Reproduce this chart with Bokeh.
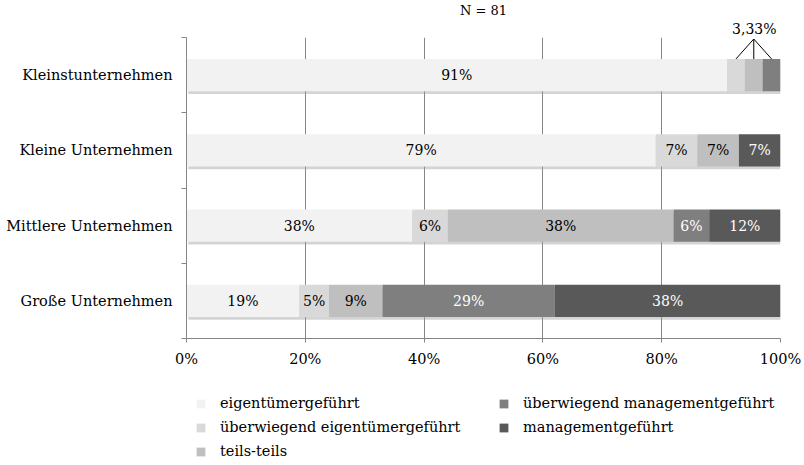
from bokeh.plotting import figure
from bokeh.layouts import column
from bokeh.models import (ColumnDataSource, Range1d, FixedTicker, PrintfTickFormatter,
                          Legend, LegendItem, Title)
from bokeh.core.properties import value
from bokeh.embed import file_html
from bokeh.resources import INLINE

# ---- data ----
categories = ["Kleinstunternehmen", "Kleine Unternehmen", "Mittlere Unternehmen", "Große Unternehmen"]
series_names = ["eigentümergeführt", "überwiegend eigentümergeführt", "teils-teils",
                "überwiegend managementgeführt", "managementgeführt"]
eigentuemer = [91, 79, 38, 19]
ueberw_eigentuemer = [3, 7, 6, 5]
teils_teils = [3, 7, 38, 9]
ueberw_management = [3, 0, 6, 29]
management = [0, 7, 12, 38]
small_label = "3,33%"
title_text = "N = 81"
x_ticks = [0, 20, 40, 60, 80, 100]

colors = ["#f2f2f2", "#d9d9d9", "#bfbfbf", "#7f7f7f", "#595959"]
text_colors = ["#000000", "#000000", "#000000", "#ffffff", "#ffffff"]
FONT = "DejaVu Serif"
GREY = "#868686"

series = [eigentuemer, ueberw_eigentuemer, teils_teils, ueberw_management, management]
n = len(categories)
ypos = [n - i - 0.5 for i in range(n)]
BAR_H = 0.43

p = figure(width=804, height=380, output_backend="svg", toolbar_location=None,
           x_range=Range1d(0, 100), y_range=Range1d(0, n), title=None,
           min_border_left=186, min_border_right=24, min_border_top=37, min_border_bottom=42)
p.outline_line_color = None
p.background_fill_color = "white"
p.border_fill_color = "white"

p.add_layout(Title(text=small_label, align="right", offset=4, text_font=FONT,
                   text_font_size="14px", text_font_style="normal", text_color="#000000",
                   standoff=2), "above")
p.add_layout(Title(text=title_text, align="center", text_font=FONT,
                   text_font_size="13px", text_font_style="normal", text_color="#000000",
                   standoff=0), "above")

totals = [sum(s[i] for s in series) for i in range(n)]
p.hbar(y=[y - 0.035 for y in ypos], left=[0.3] * n, right=[t + 0.3 for t in totals],
       height=BAR_H, fill_color="#a0a0a0", fill_alpha=0.45, line_color=None)

left = [0.0] * n
for k, (vals, col, tcol) in enumerate(zip(series, colors, text_colors)):
    right = [l + v for l, v in zip(left, vals)]
    src = ColumnDataSource(dict(y=ypos, left=left, right=right))
    p.hbar(y="y", left="left", right="right", height=BAR_H, source=src,
           fill_color=col, line_color=None)
    lx, ly, lt = [], [], []
    for i, v in enumerate(vals):
        if v >= 5:
            lx.append(left[i] + v / 2)
            ly.append(ypos[i])
            lt.append(f"{v}%")
    p.text(x=lx, y=ly, text=lt, text_align="center", text_baseline="middle",
           text_font=value(FONT), text_font_size="14px", text_color=tcol)
    left = right

base0 = eigentuemer[0]
centers = [base0 + ueberw_eigentuemer[0] / 2,
           base0 + ueberw_eigentuemer[0] + teils_teils[0] / 2,
           base0 + ueberw_eigentuemer[0] + teils_teils[0] + ueberw_management[0] / 2]
apex_x = centers[1]
apex_y = n - 0.02
bar_top = ypos[0] + BAR_H / 2
p.segment(x0=[apex_x] * 3, y0=[apex_y] * 3, x1=centers, y1=[bar_top] * 3,
          line_color="#000000", line_width=1)

p.xaxis.ticker = FixedTicker(ticks=x_ticks)
p.xaxis.formatter = PrintfTickFormatter(format="%d%%")
p.xaxis.axis_line_color = GREY
p.xaxis.major_tick_line_color = GREY
p.xaxis.major_tick_in = 0
p.xaxis.major_tick_out = 4
p.xaxis.minor_tick_line_color = None
p.xaxis.major_label_text_font = FONT
p.xaxis.major_label_text_font_size = "14.5px"
p.xaxis.major_label_text_color = "#000000"
p.xaxis.major_label_standoff = 8

p.xgrid.ticker = FixedTicker(ticks=x_ticks)
p.xgrid.grid_line_color = GREY
p.ygrid.grid_line_color = None

p.yaxis.ticker = FixedTicker(ticks=ypos, minor_ticks=list(range(n + 1)))
p.yaxis.major_label_overrides = {y: c for y, c in zip(ypos, categories)}
p.yaxis.major_tick_line_color = None
p.yaxis.minor_tick_line_color = GREY
p.yaxis.minor_tick_in = 0
p.yaxis.minor_tick_out = 5
p.yaxis.axis_line_color = GREY
p.yaxis.major_label_text_font = FONT
p.yaxis.major_label_text_font_size = "14.5px"
p.yaxis.major_label_text_color = "#000000"
p.yaxis.major_label_standoff = 8

# ---- legend figure (frame aligned with the chart frame) ----
q = figure(width=804, height=85, output_backend="svg", toolbar_location=None,
           x_range=Range1d(0, 1), y_range=Range1d(0, 1), title=None,
           x_axis_location=None, y_axis_location=None,
           min_border_left=186, min_border_right=0, min_border_top=0, min_border_bottom=0)
q.outline_line_color = None
q.xgrid.grid_line_color = None
q.ygrid.grid_line_color = None
q.border_fill_color = "white"
leg_renderers = [q.hbar(y=[0], left=[0], right=[0], height=0.0, fill_color=c, line_color=None)
                 for c in colors]
legend = Legend(items=[LegendItem(label=nm, renderers=[r]) for nm, r in zip(series_names, leg_renderers)],
                orientation="vertical", nrows=3,
                label_text_font=FONT, label_text_font_size="14.5px", label_text_color="#000000",
                glyph_width=11, glyph_height=11, label_standoff=14, label_width=274,
                label_height=20, spacing=4, padding=0, margin=0,
                border_line_color=None, background_fill_alpha=0, location=(9, 4))
q.add_layout(legend, "center")

layout = column(p, q, spacing=0)
open("out.html", "w").write(file_html(layout, INLINE))
